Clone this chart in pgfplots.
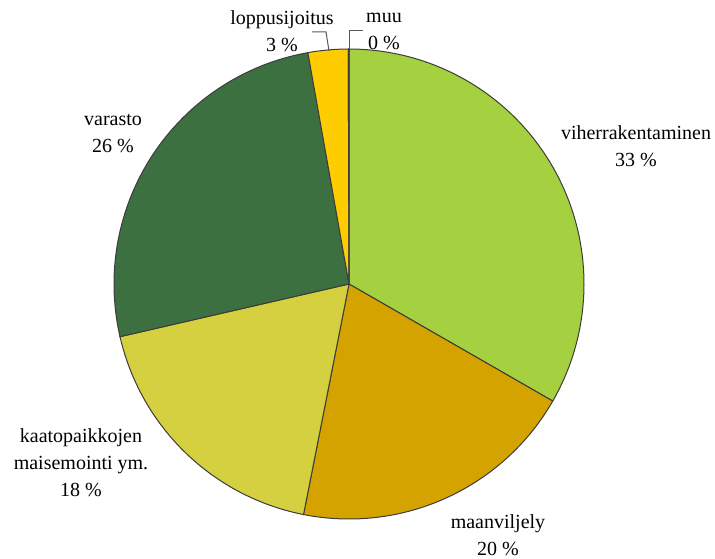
\documentclass[border=0pt]{standalone}
\usepackage{pgfplots}
\pgfplotsset{compat=1.18}
\usepackage{pgfplotstable}
\usepackage{fontspec}
\setmainfont{Liberation Serif}
\definecolor{cViher}{RGB}{165,208,64}
\definecolor{cMaan}{RGB}{212,163,0}
\definecolor{cKaato}{RGB}{212,208,64}
\definecolor{cVarasto}{RGB}{61,112,64}
\definecolor{cLoppu}{RGB}{255,204,0}
\definecolor{cMuu}{RGB}{230,230,230}
\definecolor{cEdge}{RGB}{60,60,60}
% shares in percent, clockwise from the top
\pgfplotstableread{
name share
viherrakentaminen 33.3
maanviljely 19.8
kaatopaikkojen 18.3
varasto 25.8
loppusijoitus 2.75
muu 0.05
}\piedata
\tikzset{lbl/.style={font=\fontsize{10}{13.5}\selectfont,align=center,inner sep=0pt}}
\begin{document}
\begin{tikzpicture}
\begin{axis}[x=0.5pt,y=0.5pt,xmin=0,xmax=715,ymin=0,ymax=558,
  hide axis,clip=false]
\path (axis cs:0,0) rectangle (axis cs:715,558);
% slices: angle = 90 - 3.6*cumulative percentage
\addplot[fill=cViher,draw=cEdge,line width=0.5pt,domain={90-3.6*33.3}:{90-3.6*0},samples=90,variable=\t]
  ({349+235*cos(\t)},{274+235*sin(\t)}) -- (axis cs:349,274) -- cycle;
\addplot[fill=cMaan,draw=cEdge,line width=0.5pt,domain={90-3.6*53.1}:{90-3.6*33.3},samples=60,variable=\t]
  ({349+235*cos(\t)},{274+235*sin(\t)}) -- (axis cs:349,274) -- cycle;
\addplot[fill=cKaato,draw=cEdge,line width=0.5pt,domain={90-3.6*71.4}:{90-3.6*53.1},samples=60,variable=\t]
  ({349+235*cos(\t)},{274+235*sin(\t)}) -- (axis cs:349,274) -- cycle;
\addplot[fill=cVarasto,draw=cEdge,line width=0.5pt,domain={90-3.6*97.2}:{90-3.6*71.4},samples=80,variable=\t]
  ({349+235*cos(\t)},{274+235*sin(\t)}) -- (axis cs:349,274) -- cycle;
\addplot[fill=cLoppu,draw=cEdge,line width=0.5pt,domain={90-3.6*99.95}:{90-3.6*97.2},samples=10,variable=\t]
  ({349+235*cos(\t)},{274+235*sin(\t)}) -- (axis cs:349,274) -- cycle;
\addplot[fill=cMuu,draw=cEdge,line width=0.5pt,domain={90-3.6*100}:{90-3.6*99.95},samples=3,variable=\t]
  ({349+235*cos(\t)},{274+235*sin(\t)}) -- (axis cs:349,274) -- cycle;
% leader lines
\draw[gray!70!black,line width=0.5pt] (axis cs:329,507) -- (axis cs:326,526) -- (axis cs:312,526);
\draw[gray!70!black,line width=0.5pt] (axis cs:349,509) -- (axis cs:349,527) -- (axis cs:363,527);
% labels
\node[lbl] at (axis cs:636,411.5) {viherrakentaminen\\33 \%};
\node[lbl] at (axis cs:498,22.5) {maanviljely\\20 \%};
\node[lbl] at (axis cs:81,95) {kaatopaikkojen\\maisemointi ym.\\18 \%};
\node[lbl] at (axis cs:113,424.5) {varasto\\26 \%};
\node[lbl] at (axis cs:282,526.5) {loppusijoitus\\3 \%};
\node[lbl] at (axis cs:384,526.5) {muu\\0 \%};
\end{axis}
\end{tikzpicture}
\end{document}
